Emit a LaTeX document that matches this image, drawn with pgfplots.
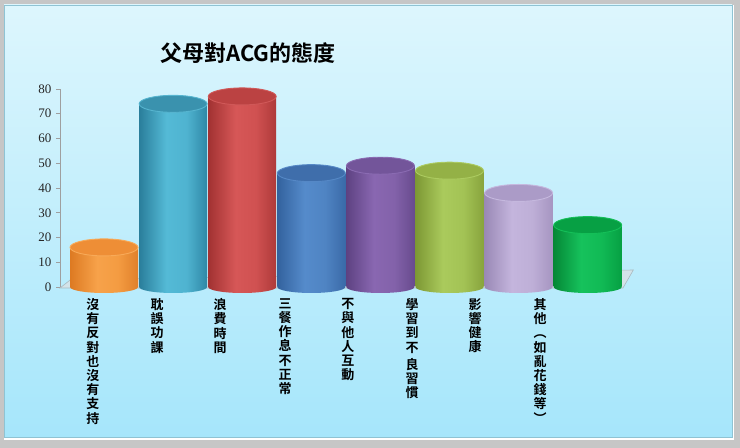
\documentclass[border=0pt]{standalone}
\usepackage{fontspec}
\setmainfont{Liberation Serif}
\newfontfamily\cjk{Noto Sans CJK TC Bold}
\usepackage{pgfplots}
\pgfplotsset{compat=1.18}

\definecolor{panelTop}{HTML}{DDF6FD}
\definecolor{panelBot}{HTML}{A6E6FB}
\definecolor{panelEdge}{HTML}{8FC3D3}
\definecolor{outer}{HTML}{C6C6C6}
\definecolor{floorF}{HTML}{D3E3E9}
\definecolor{floorD}{HTML}{A9B9BF}

% name, left, mid, mid2, right, top, rim
\newcommand\mkcyl[7]{%
  \definecolor{#1L}{HTML}{#2}\definecolor{#1M}{HTML}{#3}%
  \definecolor{#1N}{HTML}{#4}\definecolor{#1R}{HTML}{#5}%
  \definecolor{#1T}{HTML}{#6}\definecolor{#1E}{HTML}{#7}%
  \pgfdeclarehorizontalshading{#1S}{100bp}{color(0bp)=(#1L); color(25bp)=(#1L); color(45bp)=(#1M); color(60bp)=(#1N); color(75bp)=(#1R); color(100bp)=(#1R)}%
  \pgfdeclareplotmark{bot#1}{%
    \pgfpathellipse{\pgfpointorigin}{\pgfqpoint{34bp}{0pt}}{\pgfqpoint{0pt}{6bp}}%
    \pgfshadepath{#1S}{0}\pgfusepath{discard}}%
}
\mkcyl{or}{DD7A22}{F7A24A}{F49C42}{E0802A}{EE8E36}{F8AA58}
\mkcyl{te}{2A7E9B}{54BAD6}{4FB3D0}{2F88A6}{3A92AE}{56B4CF}
\mkcyl{rd}{A23232}{D65757}{D05151}{AE3A3A}{BB4242}{D05858}
\mkcyl{bl}{33629E}{558BCB}{4F84C3}{3A6AA8}{3F6EAB}{5588C6}
\mkcyl{pu}{5E4282}{8967B1}{8362AA}{684B8E}{73559A}{8A6BB2}
\mkcyl{ol}{7D9834}{AACA5C}{A3C355}{88A43D}{94B146}{ACCB60}
\mkcyl{la}{9A89B6}{C4B5DD}{BEAFD7}{A695C1}{AB9BC7}{C5B8DE}
\mkcyl{gr}{058836}{16C25C}{11BA55}{06A043}{07A044}{14BF58}

\pgfdeclareplotmark{cyltop}{%
  \pgfpathellipse{\pgfpointorigin}{\pgfqpoint{34bp}{0pt}}{\pgfqpoint{0pt}{8.5bp}}%
  \pgfusepathqfillstroke}

\newcommand\cyl[3]{% x, value, name
  \addplot[only marks, mark=bot#3] coordinates {(#1,0)};
  \addplot[ybar, bar width=68bp, bar shift=0pt, draw=none, shading=#3S] coordinates {(#1,#2)};
  \addplot[only marks, mark=cyltop, mark options={fill=#3T, draw=#3E, line width=0.9bp}] coordinates {(#1,#2)};
}

\begin{document}
\begin{tikzpicture}[x=1bp,y=1bp]
\path[use as bounding box] (0,0) rectangle (740,448);
\fill[outer] (0,0) rectangle (740,448);
\fill[white] (4,8) rectangle (734,443);
\shade[top color=panelTop, bottom color=panelBot] (4,11) rectangle (732,443);
\draw[panelEdge, line width=0.8bp] (4,11) rectangle (732,443);
\node[font=\cjk\fontsize{22bp}{26bp}\selectfont, text=black] at (248,395) {父母對ACG的態度};

\begin{axis}[
  at={(60bp,161bp)}, anchor=south west,
  x=69.1bp, y=2.475bp,
  xmin=-0.637, xmax=7.6, ymin=0, ymax=80,
  clip=false,
  separate axis lines,
  axis x line*=bottom, axis y line*=left,
  x axis line style={draw=none},
  y axis line style={draw=gray!75, line width=0.8bp},
  ytick={0,10,...,80},
  ytick style={draw=gray!75, line width=0.8bp},
  tick align=outside, major tick length=4bp,
  yticklabel style={font=\fontsize{13bp}{15bp}\selectfont, text=black!85, xshift=-1bp},
  /pgf/number format/assume math mode=true,
  xtick={-0.16,0.767,1.68,2.62,3.53,4.46,5.37,6.31},
  xtick style={draw=none},
  xticklabel style={anchor=north, align=center, yshift=-4bp,
    font=\cjk\fontsize{13bp}{14.2bp}\selectfont, text=black},
  xticklabels={
    {沒\\有\\反\\對\\也\\沒\\有\\支\\持},
    {耽\\誤\\功\\課},
    {浪\\費\\時\\間},
    {三\\餐\\作\\息\\不\\正\\常},
    {不\\與\\他\\人\\互\\動},
    {學\\習\\到\\不\\[3bp]良\\習\\慣},
    {影\\響\\健\\康},
    {其\\他\\︵\\如\\亂\\花\\錢\\等\\︶}},
]
% floor
\addplot[fill=floorF, draw=floorD, line width=0.6bp] coordinates {(-0.637,-0.4) (7.51,-0.4) (7.66,6.87) (-0.49,2.83)} -- cycle;

\cyl{0}{16}{or}
\cyl{1}{74}{te}
\cyl{2}{77}{rd}
\cyl{3}{46}{bl}
\cyl{4}{49}{pu}
\cyl{5}{47}{ol}
\cyl{6}{38}{la}
\cyl{7}{25}{gr}
\end{axis}
\end{tikzpicture}
\end{document}
